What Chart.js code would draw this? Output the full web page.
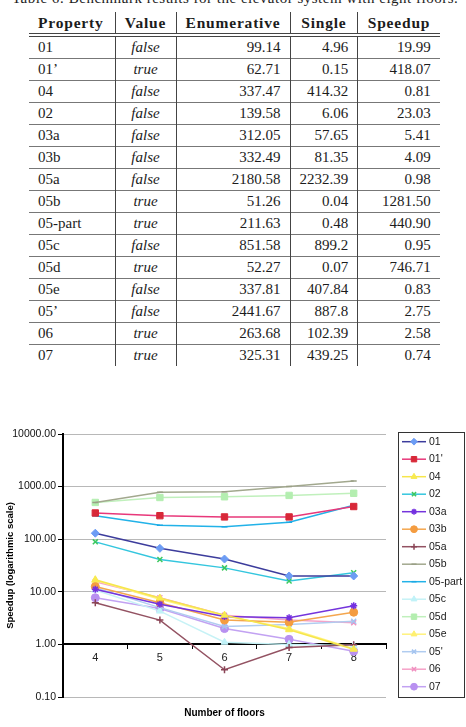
<!DOCTYPE HTML>
<html lang="en">
<head>
<meta charset="UTF-8">
<title>Elevator speedup</title>
<script src="https://cdn.jsdelivr.net/npm/chart.js@4.4.0/dist/chart.umd.min.js"></script>
<style>
body { margin:0; width:466px; height:727px; overflow:hidden; background:#fff; position:relative;
       font-family:"Liberation Serif", serif; color:#1c1c1c; }
#caption { position:absolute; left:12px; top:-10px; font-size:15px; white-space:nowrap; letter-spacing:0.5px; }
#tbl { position:absolute; left:29px; top:12px; border-collapse:collapse; font-size:15px; table-layout:fixed; }
#tbl th, #tbl td { height:21px; padding:0 9px; line-height:21px; border-left:1px solid #444; border-top:1px solid #777; }
#tbl th:first-child, #tbl td:first-child { border-left:none; }
#tbl th { font-weight:bold; font-size:15.5px; border-top:none; border-bottom:4px double #444; height:20px; letter-spacing:0.8px; }
#tbl th.l, #tbl td.l { text-align:left; }
#tbl td.num { text-align:right; }
#tbl td.val { text-align:center; font-style:italic; }
#chartBox { position:absolute; left:0; top:400px; width:466px; height:327px; }
</style>
</head>
<body>
<div id="caption">Table 6: Benchmark results for the elevator system with eight floors.</div>
<table id="tbl">
  <colgroup><col style="width:86px"><col style="width:61px"><col style="width:114px"><col style="width:67px"><col style="width:82px"></colgroup>
  <thead><tr><th class="l">Property</th><th>Value</th><th>Enumerative</th><th>Single</th><th>Speedup</th></tr></thead>
  <tbody id="tbody"></tbody>
</table>
<div id="chartBox"><canvas id="speedChart" width="466" height="327"></canvas></div>

<script>
// table data (eight floors)
var tblProperty = ['01', '01\u2019', '04', '02', '03a', '03b', '05a', '05b', '05-part', '05c', '05d', '05e', '05\u2019', '06', '07'];
var tblValue    = ['false', 'true', 'false', 'false', 'false', 'false', 'false', 'true', 'true', 'false', 'true', 'false', 'false', 'true', 'true'];
var tblEnum     = ['99.14', '62.71', '337.47', '139.58', '312.05', '332.49', '2180.58', '51.26', '211.63', '851.58', '52.27', '337.81', '2441.67', '263.68', '325.31'];
var tblSingle   = ['4.96', '0.15', '414.32', '6.06', '57.65', '81.35', '2232.39', '0.04', '0.48', '899.2', '0.07', '407.84', '887.8', '102.39', '439.25'];
var tblSpeedup  = ['19.99', '418.07', '0.81', '23.03', '5.41', '4.09', '0.98', '1281.50', '440.90', '0.95', '746.71', '0.83', '2.75', '2.58', '0.74'];

// chart data: speedup per number of floors
var floors = ['4', '5', '6', '7', '8'];
var yTicks = [0.1, 1, 10, 100, 1000, 10000];
var sp01     = [130, 67, 42, 20, 19.99];
var sp01b    = [315, 280, 265, 265, 418.07];
var sp04     = [17, 7.6, 3.6, 1.9, 0.81];
var sp02     = [89, 41, 28.5, 16, 23.03];
var sp03a    = [11.2, 5.8, 3.4, 3.2, 5.41];
var sp03b    = [12.6, 6.2, 2.9, 2.65, 4.09];
var sp05a    = [6.2, 2.9, 0.33, 0.87, 0.98];
var sp05b    = [500, 780, 800, 1000, 1281.5];
var sp05part = [280, 185, 172, 210, 440.9];
var sp05c    = [10.8, 4.3, 1.1, 1.0, 0.95];
var sp05d    = [500, 620, 640, 680, 746.71];
var sp05e    = [16.5, 7.2, 3.5, 2.0, 0.83];
var sp05p    = [12, 5.0, 2.2, 2.4, 2.75];
var sp06     = [15.5, 7.7, 3.6, 2.9, 2.58];
var sp07     = [7.7, 4.8, 2.0, 1.25, 0.74];

var tb = document.getElementById('tbody');
for (var i = 0; i < tblProperty.length; i++) {
    var tr = document.createElement('tr');
    tr.innerHTML = '<td class="l">' + tblProperty[i] + '</td><td class="val">' + tblValue[i] +
        '</td><td class="num">' + tblEnum[i] + '</td><td class="num">' + tblSingle[i] +
        '</td><td class="num">' + tblSpeedup[i] + '</td>';
    tb.appendChild(tr);
}

function series(label, data, line, marker, style, radius) {
    var stroked = (style === 'cross' || style === 'crossRot' || style === 'star' || style === 'line');
    return {
        label: label, data: data,
        borderColor: line, borderWidth: 1.5,
        pointStyle: style, pointRadius: radius, pointHoverRadius: radius,
        pointBackgroundColor: marker, pointBorderColor: marker,
        pointBorderWidth: stroked ? 1.5 : 1,
        tension: 0, fill: false
    };
}

var datasets = [
    series('01', sp01, '#3c3c9c', '#6c9cf4', 'rectRot', 4),
    series("01'", sp01b, '#e8387a', '#d82838', 'rect', 4.5),
    series('04', sp04, '#f6e64c', '#f8ea50', 'triangle', 4),
    series('02', sp02, '#34c6de', '#3cc860', 'crossRot', 3.5),
    series('03a', sp03a, '#7434dc', '#7430e0', 'star', 3.5),
    series('03b', sp03b, '#f4a64e', '#f49c40', 'circle', 4),
    series('05a', sp05a, '#935262', '#8a4456', 'cross', 3.5),
    series('05b', sp05b, '#a2a88e', '#9aa086', 'line', 3),
    series('05-part', sp05part, '#22b2e8', '#1aa8e4', 'line', 3),
    series('05c', sp05c, '#c6f2f6', '#c0f2f8', 'triangle', 4),
    series('05d', sp05d, '#c0f0bc', '#b4eeb0', 'rect', 4.5),
    series('05e', sp05e, '#fff27c', '#fff070', 'triangle', 4),
    series("05'", sp05p, '#b0ccf0', '#a4c4f0', 'crossRot', 3.5),
    series('06', sp06, '#f6a2c8', '#f090c0', 'crossRot', 3.5),
    series('07', sp07, '#c2a2f2', '#b890f0', 'circle', 4)
];

// boxed legend on the right: line + marker + label
var boxLegend = {
    id: 'boxLegend',
    afterDraw: function(chart) {
        var ctx = chart.ctx;
        var left = chart.chartArea.right + 12;
        var top = chart.chartArea.top - 2;
        ctx.save();
        ctx.strokeStyle = '#333';
        ctx.lineWidth = 1;
        ctx.strokeRect(left + 0.5, top + 0.5, 66, 265);
        chart.data.datasets.forEach(function(ds, i) {
            var y = top + 9.7 + i * 17.5;
            ctx.strokeStyle = ds.borderColor;
            ctx.lineWidth = 1.5;
            ctx.beginPath();
            ctx.moveTo(left + 4, y);
            ctx.lineTo(left + 28, y);
            ctx.stroke();
            ctx.fillStyle = ds.pointBackgroundColor;
            ctx.strokeStyle = ds.pointBorderColor;
            ctx.lineWidth = ds.pointBorderWidth;
            Chart.helpers.drawPoint(ctx, {pointStyle: ds.pointStyle, radius: ds.pointRadius * 0.85, rotation: 0, borderWidth: ds.pointBorderWidth}, left + 16, y);
            ctx.fillStyle = '#1a1a1a';
            ctx.font = '10.5px "Liberation Sans", Arial, sans-serif';
            ctx.textBaseline = 'middle';
            ctx.textAlign = 'left';
            ctx.fillText(ds.label, left + 31, y);
        });
        ctx.restore();
    }
};

var chart = new Chart(document.getElementById('speedChart'), {
    type: 'line',
    data: { labels: floors, datasets: datasets },
    plugins: [boxLegend],
    options: {
        responsive: false,
        animation: false,
        devicePixelRatio: 1,
        layout: { padding: { top: 34, right: 80, left: 0, bottom: 0 } },
        plugins: {
            legend: { display: false },
            tooltip: { enabled: false },
            title: {
                display: true, position: 'bottom', fullSize: false,
                text: 'Number of floors', color: '#000',
                font: { family: '"Liberation Sans", Arial, sans-serif', size: 10, weight: 'bold' },
                padding: { top: 10, bottom: 8 }
            }
        },
        scales: {
            x: {
                type: 'category',
                offset: true,
                position: { y: 1 },
                grid: { offset: true, drawOnChartArea: false, tickColor: '#000', tickLength: 4 },
                border: { color: '#000', width: 2 },
                ticks: { color: '#222', padding: 3, font: { family: '"Liberation Sans", Arial, sans-serif', size: 11 } }
            },
            y: {
                type: 'logarithmic',
                min: 0.1, max: 10000,
                afterBuildTicks: function(s) { s.ticks = yTicks.map(function(v) { return { value: v }; }); },
                afterFit: function(s) { s.width = 63; },
                grid: { color: '#b8b8b8', tickColor: '#000', tickLength: 5 },
                border: { color: '#000', width: 2 },
                ticks: {
                    color: '#111', padding: 2,
                    font: { family: '"Liberation Sans", Arial, sans-serif', size: 10.5 },
                    callback: function(v) { return Number(v).toFixed(2); }
                },
                title: {
                    display: true, text: 'Speedup (logarithmic scale)', color: '#000',
                    font: { family: '"Liberation Sans", Arial, sans-serif', size: 9.5, weight: 'bold' },
                    padding: { top: 5, bottom: 0 }
                }
            }
        }
    }
});
</script>
</body>
</html>
